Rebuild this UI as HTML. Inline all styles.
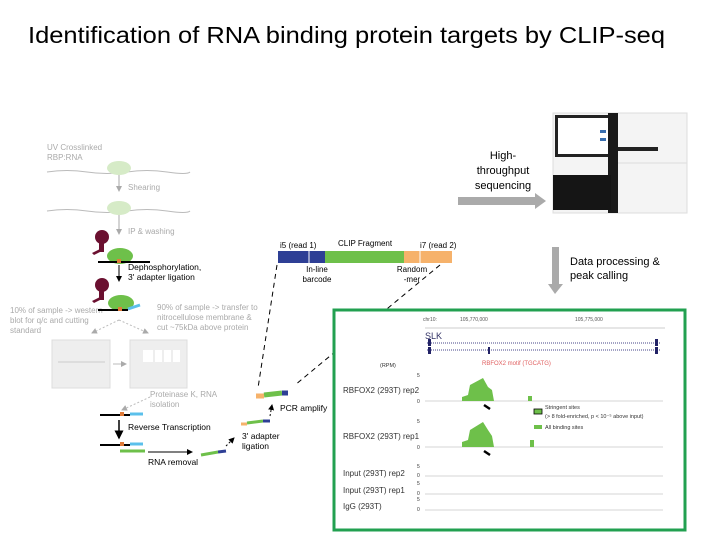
<!DOCTYPE html>
<html><head><meta charset="utf-8"><style>
html,body{margin:0;padding:0;background:#fff}
svg{display:block;font-family:"Liberation Sans",sans-serif}
</style></head><body>
<svg width="720" height="540" viewBox="0 0 720 540" xmlns="http://www.w3.org/2000/svg">
<defs>
<marker id="ab" markerWidth="6" markerHeight="6" refX="5" refY="3" orient="auto"><path d="M0,0L6,3L0,6z" fill="#000"/></marker>
<marker id="ag" markerWidth="6" markerHeight="6" refX="5" refY="3" orient="auto"><path d="M0,0L6,3L0,6z" fill="#aaa"/></marker>
</defs>
<text x="28" y="43" font-size="23" textLength="637" lengthAdjust="spacingAndGlyphs" fill="#000">Identification of RNA binding protein targets by CLIP-seq</text>

<!-- sequencer -->
<rect x="553" y="113" width="134" height="100" fill="#f4f4f4" stroke="#ddd"/>
<rect x="555" y="115" width="56" height="42" fill="#222"/>
<rect x="558" y="118" width="50" height="36" fill="#fff"/>
<rect x="600" y="130" width="6" height="3" fill="#3a6fb0"/><rect x="600" y="138" width="6" height="3" fill="#3a6fb0"/>
<rect x="608" y="113" width="10" height="100" fill="#1a1a1a"/>
<rect x="618" y="147" width="40" height="4" fill="#222"/>
<rect x="553" y="175" width="58" height="35" fill="#151515"/>
<line x1="618" y1="163" x2="687" y2="163" stroke="#ddd"/>
<text x="503" y="159" font-size="11" text-anchor="middle">High-</text>
<text x="503" y="174" font-size="11" text-anchor="middle">throughput</text>
<text x="503" y="189" font-size="11" text-anchor="middle">sequencing</text>
<rect x="458" y="197" width="78" height="8" fill="#aaa"/><path d="M535,193L546,201L535,209z" fill="#aaa"/>
<rect x="552" y="247" width="7" height="38" fill="#aaa"/><path d="M548,284L555,294L563,284z" fill="#aaa"/>
<text x="570" y="265" font-size="11">Data processing &amp;</text>
<text x="570" y="279" font-size="11">peak calling</text>

<!-- library bar -->
<rect x="278" y="251" width="47" height="12" fill="#2e3f95"/>
<rect x="325" y="251" width="79" height="12" fill="#6ec04a"/>
<rect x="404" y="251" width="48" height="12" fill="#f6b26b"/>
<line x1="309" y1="251" x2="309" y2="263" stroke="#fff"/><line x1="420" y1="251" x2="420" y2="263" stroke="#fff"/>
<text x="280" y="248" font-size="8">i5 (read 1)</text>
<text x="338" y="246" font-size="8">CLIP Fragment</text>
<text x="420" y="248" font-size="8">i7 (read 2)</text>
<text x="317" y="272" font-size="8" text-anchor="middle">In-line</text>
<text x="317" y="282" font-size="8" text-anchor="middle">barcode</text>
<text x="412" y="272" font-size="8" text-anchor="middle">Random</text>
<text x="412" y="282" font-size="8" text-anchor="middle">-mer</text>
<line x1="277" y1="265" x2="258" y2="388" stroke="#000" stroke-dasharray="5,4"/>
<line x1="440" y1="265" x2="295" y2="385" stroke="#000" stroke-dasharray="5,4"/>

<!-- left workflow -->
<g fill="#aaa" font-size="8">
<text x="47" y="150">UV Crosslinked</text><text x="47" y="160">RBP:RNA</text>
<text x="128" y="190">Shearing</text><text x="128" y="234">IP &amp; washing</text>
<text x="10" y="313">10% of sample -&gt; western</text><text x="10" y="323">blot for q/c and cutting</text><text x="10" y="333">standard</text>
<text x="157" y="310">90% of sample -&gt; transfer to</text><text x="157" y="320">nitrocellulose membrane &amp;</text><text x="157" y="330">cut ~75kDa above protein</text>
<text x="150" y="397">Proteinase K, RNA</text><text x="150" y="407">isolation</text>
</g>
<path d="M47,172q20,-3 40,0t40,0t40,0t23,0" stroke="#bbb" fill="none"/>
<ellipse cx="119" cy="168" rx="12" ry="7" fill="#d6ebc7"/>
<line x1="119" y1="175" x2="119" y2="191" stroke="#aaa" marker-end="url(#ag)"/>
<path d="M47,211q20,-3 40,0t40,0t40,0t23,0" stroke="#bbb" fill="none"/>
<ellipse cx="119" cy="208" rx="12" ry="7" fill="#d6ebc7"/>
<line x1="119" y1="215" x2="119" y2="234" stroke="#aaa" marker-end="url(#ag)"/>
<g fill="#6b1030"><circle cx="102" cy="237" r="7"/><rect x="99" y="242" width="5" height="10"/><path d="M92,253l8,-4 0,3 -6,3z"/></g>
<ellipse cx="120" cy="256" rx="13" ry="8" fill="#6ec04a"/>
<path d="M98,262h52" stroke="#000" stroke-width="2"/><rect x="117" y="259" width="4" height="4" fill="#e07b39"/>
<text x="128" y="270" font-size="8.5">Dephosphorylation,</text><text x="128" y="280" font-size="8.5">3' adapter ligation</text>
<line x1="119" y1="265" x2="119" y2="281" stroke="#000" marker-end="url(#ab)"/>
<g fill="#6b1030"><circle cx="102" cy="285" r="7"/><rect x="99" y="290" width="5" height="10"/><path d="M92,301l8,-4 0,3 -6,3z"/></g>
<ellipse cx="121" cy="303" rx="13" ry="8" fill="#6ec04a"/>
<path d="M98,310h30" stroke="#000" stroke-width="2"/><path d="M128,309l12,-4" stroke="#5bc0eb" stroke-width="3"/><rect x="118" y="307" width="4" height="4" fill="#e07b39"/>
<line x1="119" y1="320" x2="92" y2="333" stroke="#bbb" stroke-dasharray="2,2" marker-end="url(#ag)"/>
<line x1="119" y1="320" x2="148" y2="333" stroke="#bbb" stroke-dasharray="2,2" marker-end="url(#ag)"/>
<rect x="52" y="340" width="58" height="48" fill="#eee" stroke="#ddd"/>
<line x1="58" y1="362" x2="105" y2="362" stroke="#ccc"/>
<rect x="130" y="340" width="57" height="48" fill="#eee" stroke="#ddd"/>
<rect x="143" y="350" width="10" height="12" fill="#fff"/><rect x="155" y="350" width="7" height="12" fill="#fff"/><rect x="164" y="350" width="7" height="12" fill="#fff"/><rect x="173" y="350" width="7" height="12" fill="#fff"/>
<line x1="113" y1="364" x2="126" y2="364" stroke="#bbb" marker-end="url(#ag)"/>
<line x1="150" y1="397" x2="122" y2="410" stroke="#bbb" stroke-dasharray="2,2" marker-end="url(#ag)"/>
<path d="M100,415h30" stroke="#000" stroke-width="2"/><path d="M130,414h13" stroke="#5bc0eb" stroke-width="3"/><rect x="120" y="412" width="4" height="4" fill="#e07b39"/>
<line x1="119" y1="420" x2="119" y2="438" stroke="#000" stroke-width="1.5" marker-end="url(#ab)"/>
<text x="128" y="430" font-size="8.5">Reverse Transcription</text>
<path d="M100,445h30" stroke="#000" stroke-width="2"/><path d="M130,444h13" stroke="#5bc0eb" stroke-width="3"/><path d="M120,451h25" stroke="#6ec04a" stroke-width="3"/><rect x="120" y="442" width="4" height="4" fill="#e07b39"/>
<line x1="148" y1="452" x2="192" y2="452" stroke="#000" marker-end="url(#ab)"/>
<text x="148" y="465" font-size="8.5">RNA removal</text>
<path d="M201,455l17,-3" stroke="#6ec04a" stroke-width="3"/><path d="M218,452l8,-1" stroke="#2e3f95" stroke-width="3"/>
<line x1="226" y1="446" x2="234" y2="438" stroke="#000" stroke-dasharray="2,2" marker-end="url(#ab)"/>
<text x="242" y="439" font-size="8.5">3' adapter</text><text x="242" y="449" font-size="8.5">ligation</text>
<path d="M241,424h6" stroke="#f6b26b" stroke-width="3"/><path d="M247,423l16,-2" stroke="#6ec04a" stroke-width="3"/><path d="M263,421h7" stroke="#2e3f95" stroke-width="3"/>
<line x1="270" y1="416" x2="272" y2="405" stroke="#000" stroke-dasharray="2,2" marker-end="url(#ab)"/>
<text x="280" y="411" font-size="8.5">PCR amplify</text>
<path d="M256,396h8" stroke="#f6b26b" stroke-width="5"/><path d="M264,395l18,-2" stroke="#6ec04a" stroke-width="5"/><path d="M282,393h6" stroke="#2e3f95" stroke-width="5"/>

<!-- green box -->
<rect x="334" y="310" width="351" height="220" fill="#fff" stroke="#22a050" stroke-width="3"/>
<g font-size="5" fill="#555"><text x="423" y="321">chr10:</text><text x="460" y="321">105,770,000</text><text x="575" y="321">105,775,000</text></g>
<line x1="425" y1="328" x2="665" y2="328" stroke="#999" stroke-width="0.6"/>
<text x="425" y="339" font-size="9" fill="#333366">SLK</text>
<line x1="427" y1="343" x2="660" y2="343" stroke="#44448a" stroke-dasharray="1,1"/>
<line x1="427" y1="350" x2="660" y2="350" stroke="#44448a" stroke-dasharray="1,1"/>
<g fill="#222266"><rect x="428" y="339" width="3" height="7"/><rect x="428" y="347" width="3" height="7"/><rect x="488" y="347" width="2" height="7"/><rect x="655" y="339" width="3" height="7"/><rect x="655" y="347" width="3" height="7"/></g>
<text x="482" y="365" font-size="6" fill="#e06060">RBFOX2 motif (TGCATG)</text>
<text x="380" y="367" font-size="5.5" fill="#333">(RPM)</text>
<g font-size="8" fill="#333">
<text x="343" y="393">RBFOX2 (293T) rep2</text><text x="343" y="439">RBFOX2 (293T) rep1</text>
<text x="343" y="476">Input (293T) rep2</text><text x="343" y="493">Input (293T) rep1</text><text x="343" y="509">IgG (293T)</text>
</g>
<g font-size="5" fill="#333"><text x="417" y="377">5</text><text x="417" y="403">0</text><text x="417" y="423">5</text><text x="417" y="449">0</text><text x="417" y="468">5</text><text x="417" y="477">0</text><text x="417" y="485">5</text><text x="417" y="495">0</text><text x="417" y="501">5</text><text x="417" y="511">0</text></g>
<g stroke="#aaa" stroke-width="0.6"><line x1="425" y1="401" x2="663" y2="401"/><line x1="425" y1="447" x2="663" y2="447"/><line x1="425" y1="476" x2="663" y2="476"/><line x1="425" y1="494" x2="663" y2="494"/><line x1="425" y1="510" x2="663" y2="510"/></g>
<path d="M462,401L462,397L468,395L470,385L483,378L488,387L492,390L494,401z" fill="#6ec04a"/>
<path d="M462,447L462,442L468,440L470,430L483,422L488,430L492,436L494,447z" fill="#6ec04a"/>
<rect x="462" y="398" width="30" height="3" fill="#6ec04a"/><rect x="463" y="443" width="30" height="4" fill="#6ec04a"/>
<rect x="528" y="396" width="4" height="5" fill="#6ec04a"/><rect x="530" y="440" width="4" height="7" fill="#6ec04a"/>
<path d="M484,405l6,4" stroke="#000" stroke-width="2.5"/><path d="M484,451l6,4" stroke="#000" stroke-width="2.5"/>
<rect x="534" y="409" width="8" height="5" fill="#6ec04a" stroke="#000" stroke-width="0.8"/>
<rect x="534" y="425" width="8" height="4" fill="#6ec04a"/>
<g font-size="5.5" fill="#333"><text x="545" y="409">Stringent sites</text><text x="545" y="418">(&gt; 8 fold-enriched, p &lt; 10⁻⁵ above input)</text><text x="545" y="429">All binding sites</text></g>
</svg>
</body></html>
